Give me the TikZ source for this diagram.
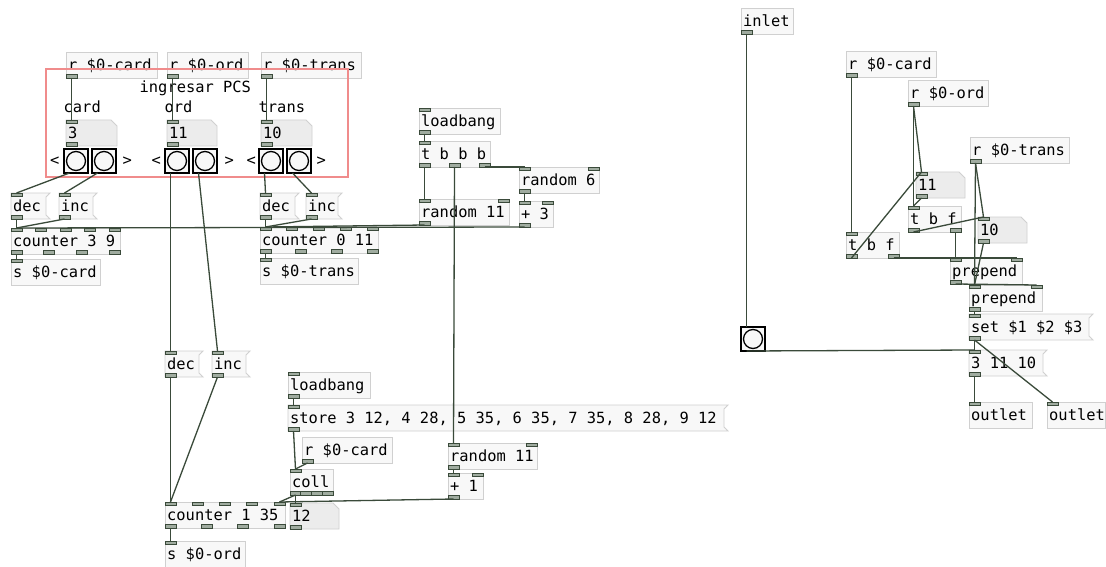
\documentclass[tikz,border=0pt]{standalone}
\usepackage{fontspec}
\setmonofont{DejaVu Sans Mono}
\usepackage{tikz}
\definecolor{boxline}  {RGB}{208, 208, 208}
\definecolor{boxfill}  {RGB}{248, 248, 248}
\definecolor{atomfill} {RGB}{236, 236, 236}
\definecolor{wirec}    {RGB}{58,  74,  58}
\definecolor{portfill} {RGB}{160, 172, 160}
\definecolor{framered} {RGB}{240, 140, 140}

\tikzset{
  objbox/.style={draw=boxline, fill=boxfill, line width=0.9pt},
  atombox/.style={draw=boxline, fill=atomfill, line width=0.9pt},
  portbox/.style={draw=wirec, fill=portfill, line width=0.7pt},
  wire/.style={draw=wirec, line width=1.3pt},
  bangbox/.style={draw=black, fill=boxfill, line width=1.8pt},
  pdtext/.style={font=\ttfamily\fontsize{15.4}{16}\selectfont, inner sep=0pt, text=black},
}

% ports: name, i/o, x0, x1, y, count, depth
\newcommand{\pdports}[7]{%
  \ifnum#6>0
    \pgfmathsetmacro{\pdgap}{(#4-#3-11)/max(#6-1,1)}%
    \foreach \k in {1,...,#6}{%
      \pgfmathsetmacro{\pdx}{#3+(\k-1)*\pdgap}%
      \draw[portbox] (\pdx,#5) rectangle (\pdx+11,#5+#7);
      \coordinate (#1-#2\k) at (\pdx+5.5,#5);
    }%
  \fi
}
% object box: name, x0, y0, x1, y1, text, inlets, outlets
\newcommand{\pdobj}[8]{%
  \draw[objbox] (#2,#3) rectangle (#4,#5);
  \node[pdtext, anchor=base west] (#1) at (#2+2,{(#3+#5)/2+5.5}) {#6};
  \pdports{#1}{i}{#2}{#4}{#3}{#7}{3.5}
  \pdports{#1}{o}{#2}{#4}{#5}{#8}{-3.5}
}
% message box
\newcommand{\pdmsg}[6]{%
  \draw[objbox] (#2,#3) -- (#4+4,#3) -- (#4,#3+4) -- (#4,#5-4) -- (#4+4,#5) -- (#2,#5) -- cycle;
  \node[pdtext, anchor=base west] (#1) at (#2+2,{(#3+#5)/2+5.5}) {#6};
  \pdports{#1}{i}{#2}{#4}{#3}{1}{3.5}
  \pdports{#1}{o}{#2}{#4}{#5}{1}{-3.5}
}
% number box
\newcommand{\pdatom}[6]{%
  \draw[atombox] (#2,#3) -- (#4-6,#3) -- (#4,#3+6) -- (#4,#5) -- (#2,#5) -- cycle;
  \node[pdtext, anchor=base west] (#1) at (#2+2,{(#3+#5)/2+5.5}) {#6};
  \pdports{#1}{i}{#2}{#4}{#3}{1}{3.5}
  \pdports{#1}{o}{#2}{#4}{#5}{1}{-3.5}
}
% bang
\newcommand{\pdbang}[3]{%
  \draw[bangbox] (#2,#3) rectangle (#2+24,#3+24);
  \draw[black, line width=1.3pt] (#2+12,#3+12) circle (9.5pt);
  \coordinate (#1-i1) at (#2+5.5,#3);
  \coordinate (#1-o1) at (#2+5.5,#3+24);
}
\newcommand{\pdcomment}[4]{\node[pdtext, anchor=base west] (#1) at (#2,#3) {#4};}

\begin{document}
\begin{tikzpicture}[x=1pt, y=-1pt]
  \fill[white] (0,0) rectangle (1106,567);
  \useasboundingbox (0,0) rectangle (1106,567);

  % ---- ingresar PCS group
  \pdobj{rcardA}{66}{52}{157}{78}{r \$0-card}{0}{1}
  \pdobj{rordA}{167}{52}{248}{78}{r \$0-ord}{0}{1}
  \pdobj{rtransA}{261}{52}{361}{78}{r \$0-trans}{0}{1}
  \pdcomment{lblpcs}{139.5}{93}{ingresar PCS}
  \pdcomment{lblcard}{63.5}{113}{card}
  \pdcomment{lblord}{164.5}{113}{ord}
  \pdcomment{lbltrans}{258.5}{113}{trans}
  \pdatom{numcard}{66}{120}{117}{146}{3}
  \pdatom{numord}{167}{120}{217}{146}{11}
  \pdatom{numtrans}{261}{120}{312}{146}{10}
  \pdcomment{ltC}{50}{165}{<}
  \pdbang{bangC1}{64}{149}
  \pdbang{bangC2}{92}{149}
  \pdcomment{gtC}{122.5}{165}{>}
  \pdcomment{ltO}{151.5}{165}{<}
  \pdbang{bangO1}{165}{149}
  \pdbang{bangO2}{193}{149}
  \pdcomment{gtO}{224.5}{165}{>}
  \pdcomment{ltT}{246.5}{165}{<}
  \pdbang{bangT1}{259}{149}
  \pdbang{bangT2}{287}{149}
  \pdcomment{gtT}{316.5}{165}{>}

  % ---- counters
  \pdmsg{decC}{11}{193}{46}{219}{dec}
  \pdmsg{incC}{59}{193}{93}{219}{inc}
  \pdobj{counterC}{11}{228}{120}{254}{counter 3 9}{5}{4}
  \pdobj{scard}{11}{259}{100}{285}{s \$0-card}{1}{0}
  \pdmsg{decT}{260}{193}{295}{219}{dec}
  \pdmsg{incT}{306}{193}{338}{219}{inc}
  \pdobj{counterT}{260}{227}{378}{253}{counter 0 11}{5}{4}
  \pdobj{strans}{260}{258}{358}{284}{s \$0-trans}{1}{0}

  % ---- random start
  \pdobj{loadA}{419}{108}{500}{134}{loadbang}{1}{1}
  \pdobj{tbbb}{419}{141}{490}{167}{t b b b}{1}{3}
  \pdobj{rndsix}{519}{167}{599}{193}{random 6}{2}{1}
  \pdobj{rndA}{419}{199}{509}{225}{random 11}{2}{1}
  \pdobj{plusthree}{519}{201}{553}{227}{+ 3}{2}{1}

  % ---- ord counter
  \pdmsg{decO}{165}{351}{199}{377}{dec}
  \pdmsg{incO}{212}{351}{246}{377}{inc}
  \pdobj{loadB}{288}{372}{370}{398}{loadbang}{1}{1}
  \pdmsg{store}{288}{405}{724}{431}{store 3 12, 4 28, 5 35, 6 35, 7 35, 8 28, 9 12}
  \pdobj{rcardB}{302}{437}{392}{463}{r \$0-card}{0}{1}
  \pdobj{coll}{290}{469}{333}{495}{coll}{1}{4}
  \pdobj{rndB}{448}{443}{537}{469}{random 11}{2}{1}
  \pdobj{plusone}{448}{473}{483}{499}{+ 1}{2}{1}
  \pdobj{counterO}{165}{502}{285}{528}{counter 1 35}{5}{4}
  \pdatom{numtwelve}{290}{503}{339}{529}{12}
  \pdobj{sord}{165}{541}{245}{567}{s \$0-ord}{1}{0}

  % ---- output part
  \pdobj{inlet}{741}{8}{793}{34}{inlet}{0}{1}
  \pdobj{rcardC}{846}{51}{936}{77}{r \$0-card}{0}{1}
  \pdobj{rordC}{908}{80}{988}{106}{r \$0-ord}{0}{1}
  \pdobj{rtransC}{970}{137}{1069}{163}{r \$0-trans}{0}{1}
  \pdatom{numeleven}{916}{172}{965}{198}{11}
  \pdobj{tbfA}{908}{206}{961}{232}{t b f}{1}{2}
  \pdatom{numten}{978}{217}{1027}{243}{10}
  \pdobj{tbfB}{846}{232}{899}{258}{t b f}{1}{2}
  \pdobj{prependA}{950}{258}{1022}{284}{prepend}{2}{1}
  \pdobj{prependB}{969}{285}{1042}{311}{prepend}{2}{1}
  \pdmsg{setmsg}{969}{314}{1089}{340}{set \$1 \$2 \$3}
  \pdmsg{listmsg}{969}{350}{1043}{376}{3 11 10}
  \pdobj{outletA}{969}{402}{1032}{428}{outlet}{1}{0}
  \pdobj{outletB}{1047}{402}{1105}{428}{outlet}{1}{0}
  \pdbang{bangR}{741}{327}

  % comment frame
  \draw[framered, line width=1.1pt] (46,69) rectangle (348,177);

  % ---- wires
  \draw[wire] (rcardA-o1) -- (numcard-i1);
  \draw[wire] (rordA-o1) -- (numord-i1);
  \draw[wire] (rtransA-o1) -- (numtrans-i1);
  \draw[wire] (bangC1-o1) -- (decC-i1);
  \draw[wire] (bangC2-o1) -- (incC-i1);
  \draw[wire] (bangO1-o1) -- (decO-i1);
  \draw[wire] (bangO2-o1) -- (incO-i1);
  \draw[wire] (bangT1-o1) -- (decT-i1);
  \draw[wire] (bangT2-o1) -- (incT-i1);
  \draw[wire] (decC-o1) -- (counterC-i1);
  \draw[wire] (incC-o1) -- (counterC-i1);
  \draw[wire] (decT-o1) -- (counterT-i1);
  \draw[wire] (incT-o1) -- (counterT-i1);
  \draw[wire] (decO-o1) -- (counterO-i1);
  \draw[wire] (incO-o1) -- (counterO-i1);
  \draw[wire] (counterC-o1) -- (scard-i1);
  \draw[wire] (counterT-o1) -- (strans-i1);
  \draw[wire] (counterO-o1) -- (sord-i1);
  \draw[wire] (loadA-o1) -- (tbbb-i1);
  \draw[wire] (tbbb-o1) -- (rndA-i1);
  \draw[wire] (tbbb-o2) -- (rndB-i1);
  \draw[wire] (tbbb-o3) -- (rndsix-i1);
  \draw[wire] (rndsix-o1) -- (plusthree-i1);
  \draw[wire] (rndA-o1) -- (counterT-i1);
  \draw[wire] (plusthree-o1) -- (counterC-i1);
  \draw[wire] (loadB-o1) -- (store-i1);
  \draw[wire] (store-o1) -- (coll-i1);
  \draw[wire] (rcardB-o1) -- (coll-i1);
  \draw[wire] (coll-o1) -- (counterO-i5);
  \draw[wire] (coll-o1) -- (numtwelve-i1);
  \draw[wire] (rndB-o1) -- (plusone-i1);
  \draw[wire] (plusone-o1) -- (counterO-i5);
  \draw[wire] (inlet-o1) -- (bangR-i1);
  \draw[wire] (bangR-o1) -- (listmsg-i1);
  \draw[wire] (rcardC-o1) -- (tbfB-i1);
  \draw[wire] (rordC-o1) -- (numeleven-i1);
  \draw[wire] (rordC-o1) -- (tbfA-i1);
  \draw[wire] (numeleven-o1) -- (tbfA-i1);
  \draw[wire] (tbfB-o1) -- (numeleven-i1);
  \draw[wire] (tbfB-o2) -- (prependA-i2);
  \draw[wire] (tbfA-o1) -- (numten-i1);
  \draw[wire] (tbfA-o2) -- (prependA-i1);
  \draw[wire] (rtransC-o1) -- (numten-i1);
  \draw[wire] (rtransC-o1) -- (prependB-i1);
  \draw[wire] (numten-o1) -- (prependB-i1);
  \draw[wire] (prependA-o1) -- (prependB-i2);
  \draw[wire] (prependB-o1) -- (setmsg-i1);
  \draw[wire] (setmsg-o1) -- (listmsg-i1);
  \draw[wire] (setmsg-o1) -- (outletB-i1);
  \draw[wire] (listmsg-o1) -- (outletA-i1);
\end{tikzpicture}
\end{document}
